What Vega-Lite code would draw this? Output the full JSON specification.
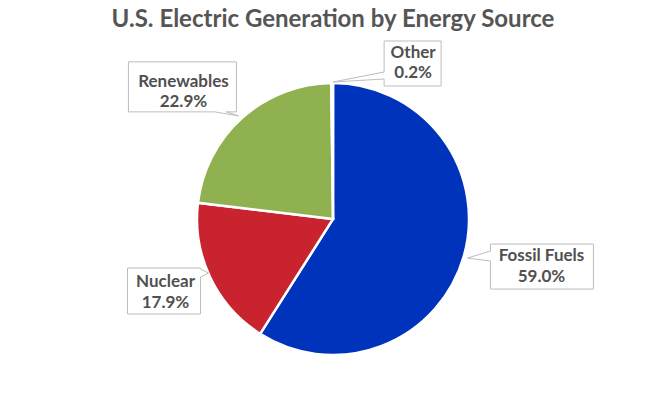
{
  "$schema": "https://vega.github.io/schema/vega-lite/v6.json",
  "width": 666,
  "height": 348,
  "autosize": {"type": "none"},
  "padding": {"top": 45, "left": 0, "right": 0, "bottom": 0},
  "background": "white",
  "title": {
    "text": "U.S. Electric Generation by Energy Source",
    "font": "Lato",
    "fontSize": 24,
    "fontWeight": "bold",
    "color": "#555555",
    "anchor": "middle",
    "baseline": "alphabetic",
    "offset": -12
  },
  "data": {
    "values": [
      {"source": "Fossil Fuels", "value": 59.0, "rank": 1},
      {"source": "Nuclear", "value": 17.9, "rank": 2},
      {"source": "Renewables", "value": 22.9, "rank": 3},
      {"source": "Other", "value": 0.2, "rank": 4}
    ]
  },
  "transform": [
    {"stack": "value", "groupby": [], "sort": [{"field": "rank", "order": "ascending"}], "as": ["v0", "v1"]},
    {"calculate": "((datum.v0 + datum.v1) / 2) / 100 * 2 * PI", "as": "ang"},
    {"calculate": "140 * sin(datum.ang)", "as": "ax"},
    {"calculate": "140 * cos(datum.ang)", "as": "ay"},
    {"calculate": "[datum.source, format(datum.value, '.1f') + '%']", "as": "label"}
  ],
  "layer": [
    {
      "mark": {"type": "arc", "outerRadius": 136, "stroke": "white", "strokeWidth": 2.5},
      "encoding": {
        "theta": {"field": "value", "type": "quantitative", "stack": true},
        "order": {"field": "rank", "type": "quantitative"},
        "color": {
          "field": "source",
          "type": "nominal",
          "scale": {
            "domain": ["Fossil Fuels", "Nuclear", "Renewables", "Other"],
            "range": ["#0033bb", "#c8232f", "#8fb14f", "#9a9a9a"]
          },
          "legend": null
        }
      }
    },
    {
      "mark": {"type": "point", "size": 4, "filled": true, "fill": "white", "stroke": "#bdbdbd", "strokeWidth": 1, "opacity": 1},
      "encoding": {
        "x": {"field": "ax", "type": "quantitative", "scale": {"domain": [-333, 333], "nice": false, "zero": false}, "axis": null},
        "y": {"field": "ay", "type": "quantitative", "scale": {"domain": [-174, 174], "nice": false, "zero": false}, "axis": null},
        "shape": {
          "field": "source",
          "type": "nominal",
          "scale": {
            "domain": ["Fossil Fuels", "Nuclear", "Renewables", "Other"],
            "range": [
              "M0,0L23,3L23,31L126,31L126,-14L23,-14L23,-7Z",
              "M2,-6L-6,-2L-6,35L-79,35L-79,-11L-6,-11L-6,-10Z",
              "M-1,1L-13,-3L-3,-3L-3,-53L-111,-53L-111,-3L-25,-3Z",
              "M1,3L52,0L52,7L109,7L109,-38L52,-38L52,-7Z"
            ]
          },
          "legend": null
        }
      }
    },
    {
      "transform": [{"filter": "datum.source === 'Fossil Fuels'"}],
      "mark": {"type": "text", "font": "Lato", "fontSize": 17, "fontWeight": "bold", "fill": "#505050", "lineHeight": 21, "align": "center", "baseline": "middle", "dx": 74, "dy": -2},
      "encoding": {
        "x": {"field": "ax", "type": "quantitative", "scale": {"domain": [-333, 333], "nice": false, "zero": false}, "axis": null},
        "y": {"field": "ay", "type": "quantitative", "scale": {"domain": [-174, 174], "nice": false, "zero": false}, "axis": null},
        "text": {"field": "label"}
      }
    },
    {
      "transform": [{"filter": "datum.source === 'Nuclear'"}],
      "mark": {"type": "text", "font": "Lato", "fontSize": 17, "fontWeight": "bold", "fill": "#505050", "lineHeight": 21, "align": "center", "baseline": "middle", "dx": -41, "dy": 3},
      "encoding": {
        "x": {"field": "ax", "type": "quantitative", "scale": {"domain": [-333, 333], "nice": false, "zero": false}, "axis": null},
        "y": {"field": "ay", "type": "quantitative", "scale": {"domain": [-174, 174], "nice": false, "zero": false}, "axis": null},
        "text": {"field": "label"}
      }
    },
    {
      "transform": [{"filter": "datum.source === 'Renewables'"}],
      "mark": {"type": "text", "font": "Lato", "fontSize": 17, "fontWeight": "bold", "fill": "#505050", "lineHeight": 20, "align": "center", "baseline": "middle", "dx": -56, "dy": -33},
      "encoding": {
        "x": {"field": "ax", "type": "quantitative", "scale": {"domain": [-333, 333], "nice": false, "zero": false}, "axis": null},
        "y": {"field": "ay", "type": "quantitative", "scale": {"domain": [-174, 174], "nice": false, "zero": false}, "axis": null},
        "text": {"field": "label"}
      }
    },
    {
      "transform": [{"filter": "datum.source === 'Other'"}],
      "mark": {"type": "text", "font": "Lato", "fontSize": 17, "fontWeight": "bold", "fill": "#505050", "lineHeight": 20, "align": "center", "baseline": "middle", "dx": 81, "dy": -26},
      "encoding": {
        "x": {"field": "ax", "type": "quantitative", "scale": {"domain": [-333, 333], "nice": false, "zero": false}, "axis": null},
        "y": {"field": "ay", "type": "quantitative", "scale": {"domain": [-174, 174], "nice": false, "zero": false}, "axis": null},
        "text": {"field": "label"}
      }
    }
  ],
  "config": {"view": {"stroke": null}}
}
